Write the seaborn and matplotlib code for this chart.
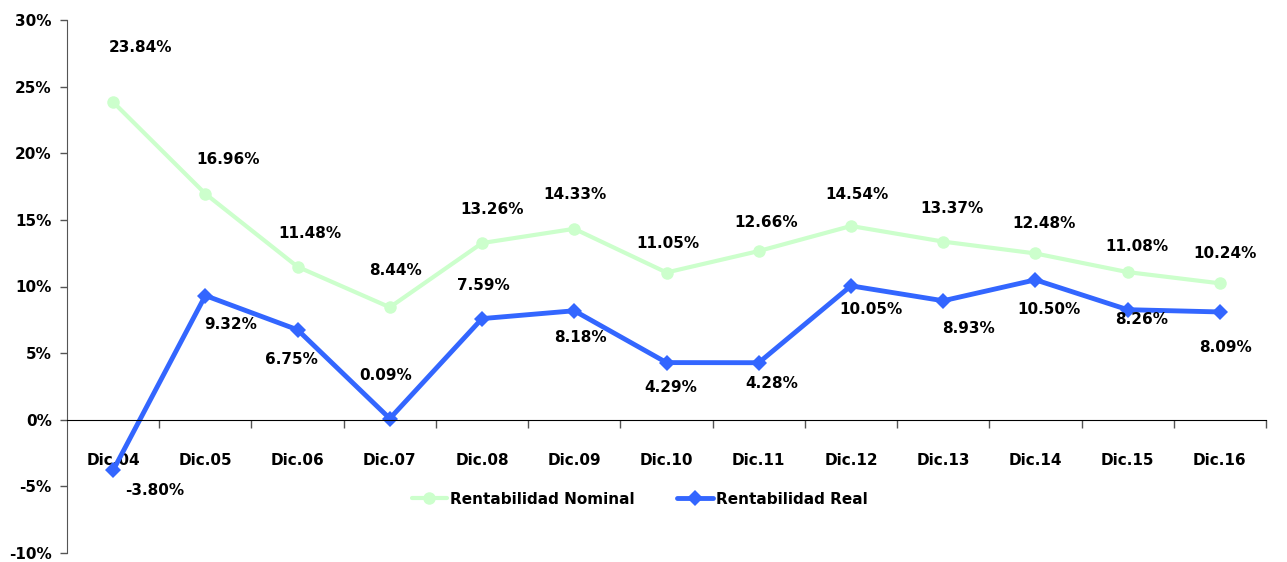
import pandas as pd
import seaborn as sns
import matplotlib.pyplot as plt

periodos = ['Dic.04', 'Dic.05', 'Dic.06', 'Dic.07', 'Dic.08', 'Dic.09', 'Dic.10',
            'Dic.11', 'Dic.12', 'Dic.13', 'Dic.14', 'Dic.15', 'Dic.16']
nominal = [23.84, 16.96, 11.48, 8.44, 13.26, 14.33, 11.05, 12.66, 14.54, 13.37, 12.48, 11.08, 10.24]
real = [-3.80, 9.32, 6.75, 0.09, 7.59, 8.18, 4.29, 4.28, 10.05, 8.93, 10.50, 8.26, 8.09]

# desplazamiento de etiquetas (pixeles)
off_nom = [(27, 55), (23, 34), (12, 33), (6, 37), (10, 34), (1, 34), (1, 29),
           (7, 29), (6, 32), (9, 33), (9, 30), (9, 26), (5, 30)]
off_real = [(42, -20), (25, -29), (-6, -30), (-4, 43), (1, 33), (6, -27), (4, -25),
            (13, -21), (20, -24), (25, -28), (14, -30), (14, -10), (6, -36)]

df = pd.DataFrame({'pos': range(len(periodos)), 'Periodo': periodos,
                   'Nominal': nominal, 'Real': real})

sns.set_style("white")
plt.rcParams['font.family'] = ['DejaVu Sans']
plt.rcParams['font.weight'] = 'bold'
plt.rcParams['text.color'] = 'black'
plt.rcParams['xtick.labelcolor'] = 'black'
plt.rcParams['ytick.labelcolor'] = 'black'
fs = 11

fig = plt.figure(figsize=(12.87, 5.62), dpi=100)
ax = fig.add_axes([67 / 1287, 9 / 562, (1266 - 67) / 1287, 533 / 562])

sns.lineplot(data=df, x='pos', y='Nominal', sort=False, color='#CCFFCC',
             linewidth=3, marker='o', markersize=9, markeredgewidth=0,
             label='Rentabilidad Nominal', ax=ax)
sns.lineplot(data=df, x='pos', y='Real', sort=False, color='#3366FF',
             linewidth=3.5, marker='D', markersize=8, markeredgewidth=0,
             label='Rentabilidad Real', ax=ax)

for i, v in enumerate(nominal):
    ax.annotate(f"{v:.2f}%", (i, v), xytext=off_nom[i], textcoords='offset pixels',
                ha='center', va='center', fontsize=fs, fontweight='bold', color='black')
for i, v in enumerate(real):
    ax.annotate(f"{v:.2f}%", (i, v), xytext=off_real[i], textcoords='offset pixels',
                ha='center', va='center', fontsize=fs, fontweight='bold', color='black')

ax.set_xlim(-0.5, len(periodos) - 0.5)
ax.set_ylim(-10, 30)
ax.set_yticks(range(-10, 31, 5))
ax.set_yticklabels([f"{t}%" for t in range(-10, 31, 5)])
ax.set_xticks(range(len(periodos)))
ax.set_xticklabels(periodos)
ax.set_xticks([i + 0.5 for i in range(len(periodos))], minor=True)
ax.tick_params(axis='x', which='major', length=0, pad=24, labelsize=fs, labelcolor='black')
ax.tick_params(axis='x', which='minor', length=6, width=1, direction='out',
               color='#555555', bottom=True)
ax.tick_params(axis='y', length=5, width=1, direction='out', color='#555555',
               pad=6, labelsize=fs, left=True, labelcolor='black')

ax.spines['bottom'].set_position(('data', 0))
ax.spines['bottom'].set_color('black')
ax.spines['left'].set_color('#555555')
ax.spines['top'].set_visible(False)
ax.spines['right'].set_visible(False)
ax.set_xlabel('')
ax.set_ylabel('')

leg = ax.legend(loc='center', bbox_to_anchor=(0.497, 0.112), bbox_transform=fig.transFigure,
                ncol=2, frameon=False, handlelength=2.3, handletextpad=0.2,
                columnspacing=2.8, prop={'weight': 'bold', 'size': fs})
for t in leg.get_texts():
    t.set_color('black')

plt.savefig('out.png', dpi=100)
